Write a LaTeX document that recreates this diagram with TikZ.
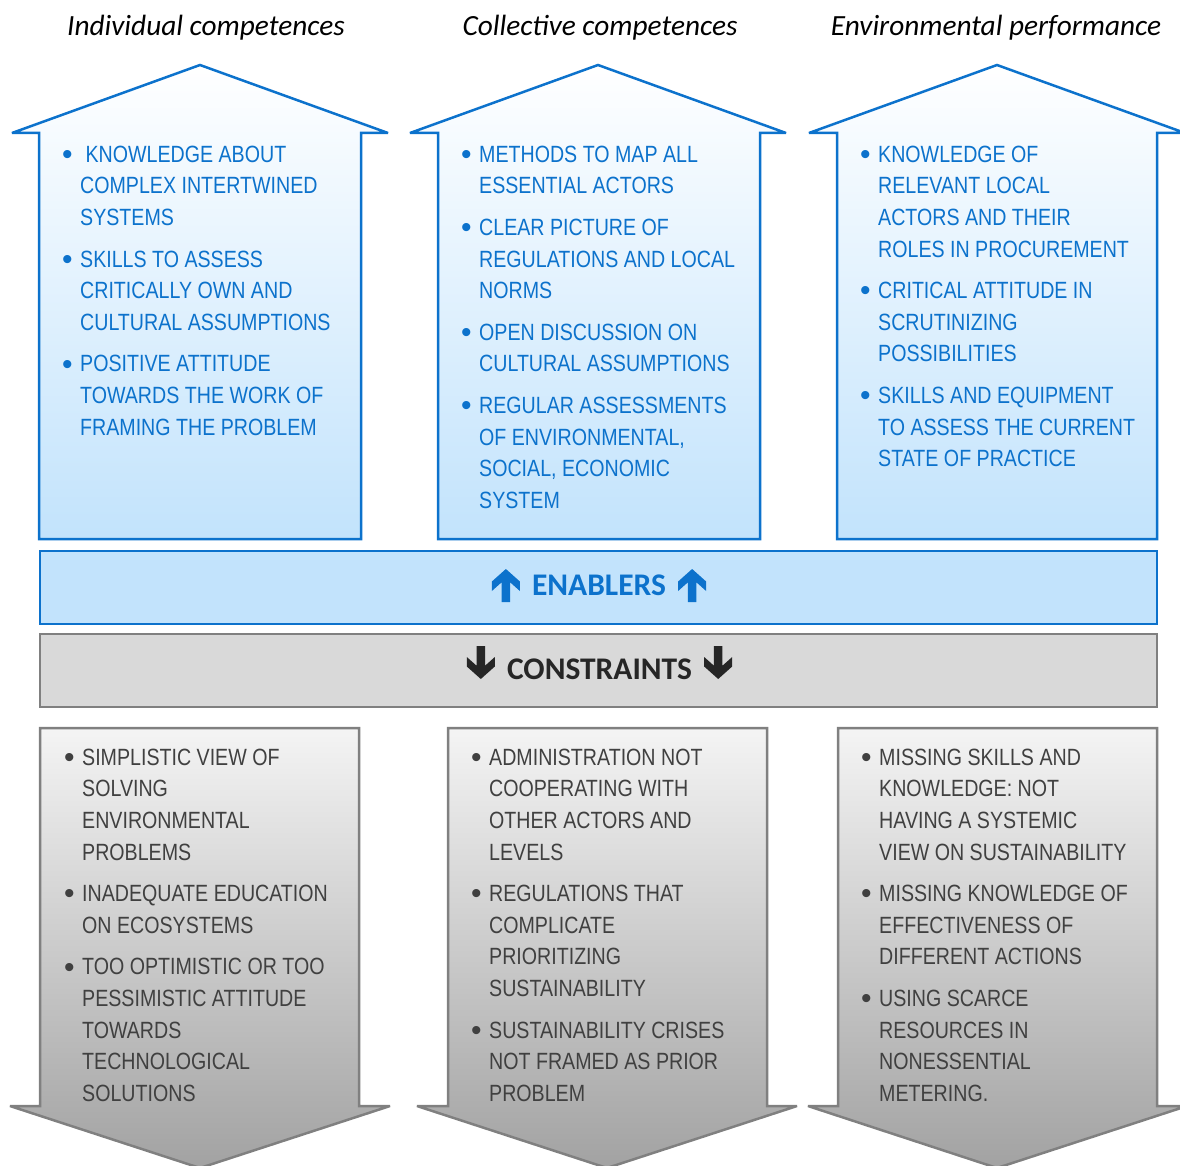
\documentclass[tikz,border=0pt]{standalone}
\usepackage{fontspec}
\setmainfont{Liberation Sans}
\newfontfamily\narrowfont[FakeStretch=0.835]{Liberation Sans}
\newfontfamily\calfont{Carlito}

\definecolor{enblue}{RGB}{12,114,204}
\definecolor{paleblue}{RGB}{194,227,252}
\definecolor{bargray}{RGB}{217,217,217}
\definecolor{edgegray}{RGB}{128,128,128}
\definecolor{graytop}{RGB}{244,244,244}
\definecolor{graybot}{RGB}{162,162,162}
\definecolor{txtgray}{RGB}{64,64,64}
\definecolor{darkglyph}{RGB}{38,38,38}

% bullet hanging to the left of an item's first line
\newcommand\bul{\llap{\raisebox{-2.2pt}{\normalfont\fontsize{30}{30}\selectfont\textbullet}\hspace{7.6pt}}}

\tikzset{
  uphouse/.style={draw=enblue, line width=2.5pt, line join=miter, miter limit=2, top color=white, bottom color=paleblue},
  downshape/.style={draw=edgegray, line width=2.5pt, line join=miter, miter limit=2, top color=graytop, bottom color=graybot},
  bluelist/.style={anchor=north west, inner sep=0pt, align=left, text=enblue,
    font=\narrowfont\fontsize{23.5}{31.6}\selectfont},
  graylist/.style={bluelist, text=txtgray},
  heading/.style={anchor=base, inner sep=0pt, font=\calfont\itshape\fontsize{29.3}{30}\selectfont},
  barlabel/.style={inner sep=0pt, font=\calfont\bfseries\fontsize{31.5}{32}\selectfont},
  bar/.style={line width=2.5pt, minimum width=1117pt, minimum height=73pt, inner sep=0pt},
  upglyph/.pic={\fill[enblue] (0,-16.5) -- (14,-4) -- (14,5.5) -- (4.2,-3.25) -- (4.2,16.5)
      -- (-4.2,16.5) -- (-4.2,-3.25) -- (-14,5.5) -- (-14,-4) -- cycle;},
  downglyph/.pic={\fill[darkglyph] (0,16.5) -- (14,4) -- (14,-5.5) -- (4.2,3.25) -- (4.2,-16.5)
      -- (-4.2,-16.5) -- (-4.2,3.25) -- (-14,-5.5) -- (-14,4) -- cycle;},
}

\begin{document}
\begin{tikzpicture}[x=1pt, y=-1pt]
\useasboundingbox (0,0) rectangle (1180,1166);
\clip (0,0) rectangle (1180,1166);

% column headings
\node[heading] (h1) at (206,35.5) {Individual competences};
\node[heading] (h2) at (600,35.5) {Collective competences};
\node[heading] (h3) at (996,35.5) {Environmental performance};

% upward arrows
\path[uphouse] (12,133) -- (200,65) -- (388,133) -- (361,133) -- (361,539) -- (39,539) -- (39,133) -- cycle;
\path[uphouse] (410,133) -- (598,65) -- (786,133) -- (760,133) -- (760,539) -- (438,539) -- (438,133) -- cycle;
\path[uphouse] (809,133) -- (997,65) -- (1185,133) -- (1157,133) -- (1157,539) -- (837,539) -- (837,133) -- cycle;

% downward arrows
\path[downshape] (40,728) -- (359,728) -- (359,1106) -- (390,1106) -- (200,1168) -- (10,1106) -- (40,1106) -- cycle;
\path[downshape] (448,728) -- (767,728) -- (767,1106) -- (797,1106) -- (607,1168) -- (417,1106) -- (448,1106) -- cycle;
\path[downshape] (838,728) -- (1157,728) -- (1157,1106) -- (1187,1106) -- (997,1168) -- (808,1106) -- (838,1106) -- cycle;

% middle bars
\node[bar, draw=enblue, fill=paleblue] (enbar) at (598.5,587.5) {};
\node[bar, draw=edgegray, fill=bargray] (cobar) at (598.5,670.5) {};
\node[barlabel, text=enblue] (enab) at (599,585.5) {ENABLERS};
\node[barlabel, text=darkglyph] (cons) at (599.5,669.5) {CONSTRAINTS};
\pic at ([xshift=-26pt]enab.west) {upglyph};
\pic at ([xshift=26pt]enab.east) {upglyph};
\pic at ([xshift=-26pt,yshift=7pt]cons.west) {downglyph};
\pic at ([xshift=26pt,yshift=7pt]cons.east) {downglyph};

% enablers
\node[bluelist] (e1) at (80,145.6) {\bul\ KNOWLEDGE ABOUT\\COMPLEX INTERTWINED\\SYSTEMS\\[10pt]
  \bul SKILLS TO ASSESS\\CRITICALLY OWN AND\\CULTURAL ASSUMPTIONS\\[10pt]
  \bul POSITIVE ATTITUDE\\TOWARDS THE WORK OF\\FRAMING THE PROBLEM};
\node[bluelist] (e2) at (479,145.6) {\bul METHODS TO MAP ALL\\ESSENTIAL ACTORS\\[10pt]
  \bul CLEAR PICTURE OF\\REGULATIONS AND LOCAL\\NORMS\\[10pt]
  \bul OPEN DISCUSSION ON\\CULTURAL ASSUMPTIONS\\[10pt]
  \bul REGULAR ASSESSMENTS\\OF ENVIRONMENTAL,\\SOCIAL, ECONOMIC\\SYSTEM};
\node[bluelist] (e3) at (878,145.6) {\bul KNOWLEDGE OF\\RELEVANT LOCAL\\ACTORS AND THEIR\\ROLES IN PROCUREMENT\\[10pt]
  \bul CRITICAL ATTITUDE IN\\SCRUTINIZING\\POSSIBILITIES\\[10pt]
  \bul SKILLS AND EQUIPMENT\\TO ASSESS THE CURRENT\\STATE OF PRACTICE};

% constraints
\node[graylist] (c1) at (82,748.6) {\bul SIMPLISTIC VIEW OF\\SOLVING\\ENVIRONMENTAL\\PROBLEMS\\[10pt]
  \bul INADEQUATE EDUCATION\\ON ECOSYSTEMS\\[10pt]
  \bul TOO OPTIMISTIC OR TOO\\PESSIMISTIC ATTITUDE\\TOWARDS\\TECHNOLOGICAL\\SOLUTIONS};
\node[graylist] (c2) at (489,748.6) {\bul ADMINISTRATION NOT\\COOPERATING WITH\\OTHER ACTORS AND\\LEVELS\\[10pt]
  \bul REGULATIONS THAT\\COMPLICATE\\PRIORITIZING\\SUSTAINABILITY\\[10pt]
  \bul SUSTAINABILITY CRISES\\NOT FRAMED AS PRIOR\\PROBLEM};
\node[graylist] (c3) at (879,748.6) {\bul MISSING SKILLS AND\\KNOWLEDGE: NOT\\HAVING A SYSTEMIC\\VIEW ON SUSTAINABILITY\\[10pt]
  \bul MISSING KNOWLEDGE OF\\EFFECTIVENESS OF\\DIFFERENT ACTIONS\\[10pt]
  \bul USING SCARCE\\RESOURCES IN\\NONESSENTIAL\\METERING.};
\end{tikzpicture}
\end{document}
